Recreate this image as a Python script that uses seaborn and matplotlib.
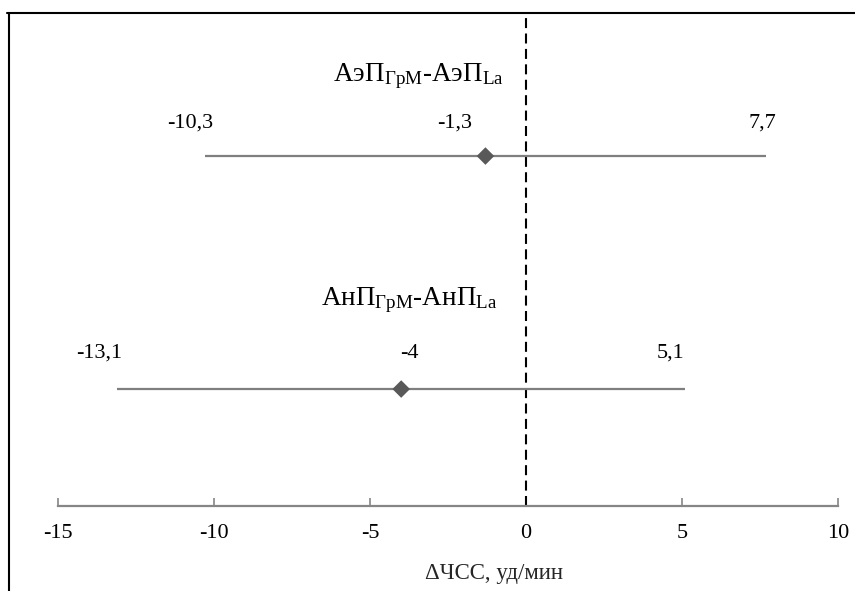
import matplotlib
matplotlib.use("Agg")
import matplotlib.pyplot as plt
import seaborn as sns
import pandas as pd
from matplotlib.lines import Line2D

# Paired comparisons: mean difference with lower / upper limits
comparisons = [r"АэП$_{\mathrm{ГрМ}}$-АэП$_{\mathrm{La}}$",
               r"АнП$_{\mathrm{ГрМ}}$-АнП$_{\mathrm{La}}$"]
mean_diff = [-1.3, -4.0]
lower_limit = [-10.3, -13.1]
upper_limit = [7.7, 5.1]
row_pos = [2, 1]
x_ticks = [-15, -10, -5, 0, 5, 10]
x_label = "ΔЧСС, уд/мин"

# label offsets (pixels) for the value annotations: (lower, mean, upper)
label_dx = [(-14, -31, -4), (-18, 8, -15)]
label_dy = [33, 36]

SERIF = ["Liberation Serif", "DejaVu Serif"]

sns.set_style("white")
plt.rcParams["font.family"] = SERIF
plt.rcParams["mathtext.fontset"] = "custom"
plt.rcParams["mathtext.rm"] = "Liberation Serif"
plt.rcParams["mathtext.it"] = "Liberation Serif:italic"

df = pd.DataFrame({"name": comparisons, "mean": mean_diff,
                   "lo": lower_limit, "hi": upper_limit, "row": row_pos})

fig = plt.figure(figsize=(8.55, 5.91), dpi=100)
ax = fig.add_axes([58 / 855, 1 - 506 / 591, 780 / 855, 493 / 591])

axis_grey = "#868686"
ax.hlines(df["row"], df["lo"], df["hi"], color="#7f7f7f", lw=1.6, zorder=2)
sns.scatterplot(data=df, x="mean", y="row", marker="D", s=80,
                color="#595959", edgecolor="none", zorder=3, ax=ax, legend=False)
ax.axvline(0, color="black", lw=1.5, ls=(0, (4.8, 2.6)), zorder=1)

for i, r in df.iterrows():
    for (val, dx) in zip((r["lo"], r["mean"], r["hi"]), label_dx[i]):
        ax.annotate(f"{val:g}".replace(".", ","), xy=(val, r["row"]),
                    xytext=(dx, label_dy[i]), textcoords="offset pixels",
                    ha="center", va="center", fontsize=16, color="black",
                    family=SERIF)

title_pos = [(0.4615, 0.862), (0.451, 0.408)]
for name, (tx, ty) in zip(comparisons, title_pos):
    ax.text(tx, ty, name, transform=ax.transAxes, ha="center", va="baseline",
            fontsize=19.5, color="black", family=SERIF)

ax.set_xlim(-15, 10)
ax.set_ylim(0.498, 2.614)
ax.set_xticks(x_ticks)
ax.set_xticklabels([str(t) for t in x_ticks], family=SERIF, fontsize=16)
ax.set_yticks([])
ax.set_ylabel("")
ax.set_xlabel(x_label, fontsize=16.5, family=SERIF)
ax.xaxis.set_label_coords((494 - 58) / 780, -0.136)
ax.xaxis.label.set_va("center")

for side in ("top", "right", "left"):
    ax.spines[side].set_visible(False)
ax.spines["bottom"].set_color(axis_grey)
ax.spines["bottom"].set_linewidth(1.6)
ax.tick_params(axis="x", direction="in", length=5.5, width=1.2,
               color=axis_grey, pad=13, labelcolor="black", bottom=True)

# frame around the figure (top and left edges)
fig.add_artist(Line2D([7 / 855, 1], [1 - 13 / 591, 1 - 13 / 591],
                      transform=fig.transFigure, color="black", lw=1.5))
fig.add_artist(Line2D([9 / 855, 9 / 855], [1 - 13 / 591, 0],
                      transform=fig.transFigure, color="black", lw=1.5))

fig.savefig("out.png", dpi=100)
